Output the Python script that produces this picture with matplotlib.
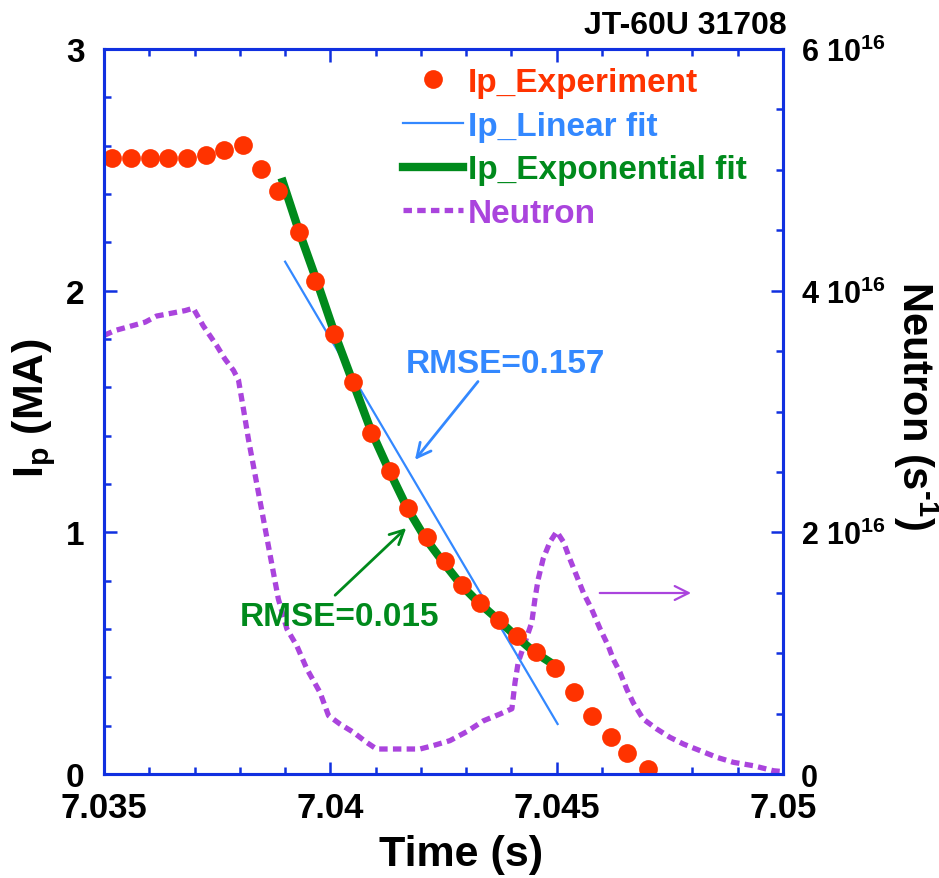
import matplotlib
matplotlib.use("Agg")

import matplotlib.pyplot as plt
from matplotlib.ticker import MultipleLocator, FixedLocator, FixedFormatter
from matplotlib.lines import Line2D

plt.rcParams['font.family'] = ['Liberation Sans', 'DejaVu Sans']
plt.rcParams['font.weight'] = 'bold'
plt.rcParams['axes.labelweight'] = 'bold'
plt.rcParams['mathtext.fontset'] = 'custom'
plt.rcParams['mathtext.rm'] = 'Liberation Sans:bold'
plt.rcParams['mathtext.it'] = 'Liberation Sans:bold'
plt.rcParams['mathtext.bf'] = 'Liberation Sans:bold'
plt.rcParams['mathtext.default'] = 'rm'

RED = '#ff3300'
BLUE = '#3388ff'
GREEN = '#008a1c'
PURPLE = '#aa44dd'
AXBLUE = '#1030e0'

# Ip experiment (s, MA)
t_exp = [7.03517, 7.03560, 7.03602, 7.03642, 7.03683, 7.03725, 7.03765, 7.03806,
         7.03847, 7.03884, 7.03930, 7.03966, 7.04007, 7.04049, 7.04090, 7.04131,
         7.04172, 7.04213, 7.04254, 7.04290, 7.04331, 7.04373, 7.04413, 7.04455,
         7.04496, 7.04538, 7.04579, 7.04620, 7.04656, 7.04702]
ip_exp = [2.549, 2.549, 2.549, 2.549, 2.549, 2.563, 2.582, 2.603,
          2.503, 2.412, 2.242, 2.039, 1.820, 1.621, 1.410, 1.255,
          1.101, 0.979, 0.880, 0.782, 0.707, 0.639, 0.572, 0.506,
          0.440, 0.341, 0.241, 0.152, 0.087, 0.021]

# linear fit end points
t_lin = [7.03900, 7.04502]
ip_lin = [2.12, 0.207]

# exponential fit
t_expfit = [7.03895, 7.0393, 7.0397, 7.0401, 7.0405, 7.0409, 7.0413, 7.0417,
            7.0421, 7.0425, 7.0429, 7.0433, 7.0437, 7.0441, 7.0445, 7.0450]
ip_expfit = [2.45, 2.25, 2.04, 1.82, 1.62, 1.42, 1.255, 1.10,
             0.975, 0.875, 0.78, 0.705, 0.64, 0.57, 0.505, 0.445]

# neutron rate (1e16 /s)
t_neu = [7.03500, 7.03524, 7.03591, 7.03616, 7.03679, 7.03697, 7.03719, 7.03749,
         7.03767, 7.03786, 7.03797, 7.03808, 7.03819, 7.03830, 7.03841, 7.03852,
         7.03863, 7.03874, 7.03885, 7.03904, 7.03926, 7.03948, 7.03977, 7.03996,
         7.04021, 7.04051, 7.04080, 7.04102, 7.04198, 7.04227, 7.04264, 7.04301,
         7.04338, 7.04375, 7.04401, 7.04408, 7.04415, 7.04430, 7.04445, 7.04452,
         7.04459, 7.04470, 7.04485, 7.04500, 7.04515, 7.04529, 7.04544, 7.04559,
         7.04577, 7.04596, 7.04614, 7.04625, 7.04640, 7.04655, 7.04669, 7.04691,
         7.04721, 7.04750, 7.04780, 7.04817, 7.04854, 7.04890, 7.04934, 7.04979,
         7.05000]
neu = [3.63, 3.67, 3.74, 3.79, 3.835, 3.855, 3.71, 3.545,
       3.435, 3.34, 3.26, 3.02, 2.77, 2.55, 2.33, 2.11,
       1.89, 1.67, 1.45, 1.20, 1.06, 0.87, 0.676, 0.483,
       0.414, 0.345, 0.262, 0.207, 0.207, 0.235, 0.276, 0.35,
       0.44, 0.497, 0.54, 0.76, 0.925, 1.09, 1.256, 1.45,
       1.61, 1.78, 1.92, 2.006, 1.92, 1.78, 1.64, 1.50,
       1.366, 1.20, 1.06, 0.95, 0.84, 0.70, 0.59, 0.455,
       0.373, 0.304, 0.248, 0.193, 0.138, 0.097, 0.069, 0.027,
       0.02]
neu = [v * 1e16 for v in neu]

neu_ticks = [0, 2e16, 4e16, 6e16]
neu_labels = ['0', '2 10$^{16}$', '4 10$^{16}$', '6 10$^{16}$']

fig = plt.figure(figsize=(9.39, 8.79), dpi=100)
ax = fig.add_axes([0.1108, 0.1183, 0.7231, 0.8248])
ax2 = ax.twinx()
ax.set_zorder(ax2.get_zorder() + 1)
ax.patch.set_visible(False)

ax2.plot(t_neu, neu, color=PURPLE, lw=3.8, dashes=(1.6, 1.0))
ax.plot(t_lin, ip_lin, color=BLUE, lw=1.6)
ax.plot(t_expfit, ip_expfit, color=GREEN, lw=6)
ax.plot(t_exp, ip_exp, 'o', color=RED, ms=13.5, mec='none')

ax.set_xlim(7.035, 7.05)
ax.set_ylim(0, 3)
ax2.set_ylim(0, 6e16)

ax.xaxis.set_major_locator(FixedLocator([7.035, 7.04, 7.045, 7.05]))
ax.xaxis.set_major_formatter(FixedFormatter(['7.035', '7.04', '7.045', '7.05']))
ax.xaxis.set_minor_locator(MultipleLocator(0.001))
ax.yaxis.set_major_locator(FixedLocator([0, 1, 2, 3]))
ax.yaxis.set_major_formatter(FixedFormatter(['0', '1', '2', '3']))
ax.yaxis.set_minor_locator(MultipleLocator(0.2))
ax2.yaxis.set_major_locator(FixedLocator(neu_ticks))
ax2.yaxis.set_major_formatter(FixedFormatter(neu_labels))
ax2.yaxis.set_minor_locator(MultipleLocator(0.5e16))

for a in (ax, ax2):
    for s in a.spines.values():
        s.set_color(AXBLUE)
        s.set_linewidth(2.2)
ax.tick_params(which='both', direction='in', color=AXBLUE, width=1.8,
               top=True, right=False, labelsize=25)
ax.tick_params(which='major', length=9)
ax.tick_params(which='minor', length=5)
ax.tick_params(axis='y', pad=14, labelsize=24)
ax.tick_params(axis='x', pad=12)
ax2.tick_params(which='both', direction='in', color=AXBLUE, width=1.8, labelsize=22, pad=13)
ax2.tick_params(which='major', length=9)
ax2.tick_params(which='minor', length=5)

ax.set_xlabel('Time (s)', fontsize=31, va='center')
ax.xaxis.set_label_coords(0.526, -0.110)
ax.set_ylabel('I$_{p}$ (MA)', fontsize=31, va='center', ha='center')
ax.yaxis.set_label_coords(-0.103, 0.506)
ax2.set_ylabel('Neutron (s$^{\\text{-1}}$)', fontsize=30, rotation=-90,
               va='center', ha='center')
ax2.yaxis.set_label_coords(1.195, 0.51)

ax.text(1.006, 1.012, 'JT-60U 31708', transform=ax.transAxes, ha='right', va='bottom',
        fontsize=23)

# annotations
ax.annotate('', xy=(7.04183, 1.291), xytext=(7.04330, 1.633),
            arrowprops=dict(arrowstyle='->', color=BLUE, lw=2, mutation_scale=25))
ax.text(7.04386, 1.70, 'RMSE=0.157', color=BLUE, fontsize=24, ha='center', va='center')
ax.annotate('', xy=(7.04172, 1.026), xytext=(7.04006, 0.732),
            arrowprops=dict(arrowstyle='->', color=GREEN, lw=2, mutation_scale=25))
ax.text(7.04021, 0.65, 'RMSE=0.015', color=GREEN, fontsize=24, ha='center', va='center')
ax.annotate('', xy=(7.04803, 0.749), xytext=(7.04589, 0.749),
            arrowprops=dict(arrowstyle='->', color=PURPLE, lw=1.6, mutation_scale=25))

handles = [Line2D([], [], ls='none', marker='o', color=RED, ms=13.5, mec='none'),
           Line2D([], [], color=BLUE, lw=1.6),
           Line2D([], [], color=GREEN, lw=6),
           Line2D([], [], color=PURPLE, lw=3.8, dashes=(1.6, 1.0))]
labels = ['Ip_Experiment', 'Ip_Linear fit', 'Ip_Exponential fit', 'Neutron']
leg = ax.legend(handles, labels, loc='upper left', bbox_to_anchor=(0.44, 0.975),
                frameon=False, fontsize=24, handlelength=1.8, handletextpad=0.15,
                labelspacing=0.38, borderpad=0, borderaxespad=0)
for txt, c in zip(leg.get_texts(), [RED, BLUE, GREEN, PURPLE]):
    txt.set_color(c)

fig.savefig('out.png', dpi=100)
